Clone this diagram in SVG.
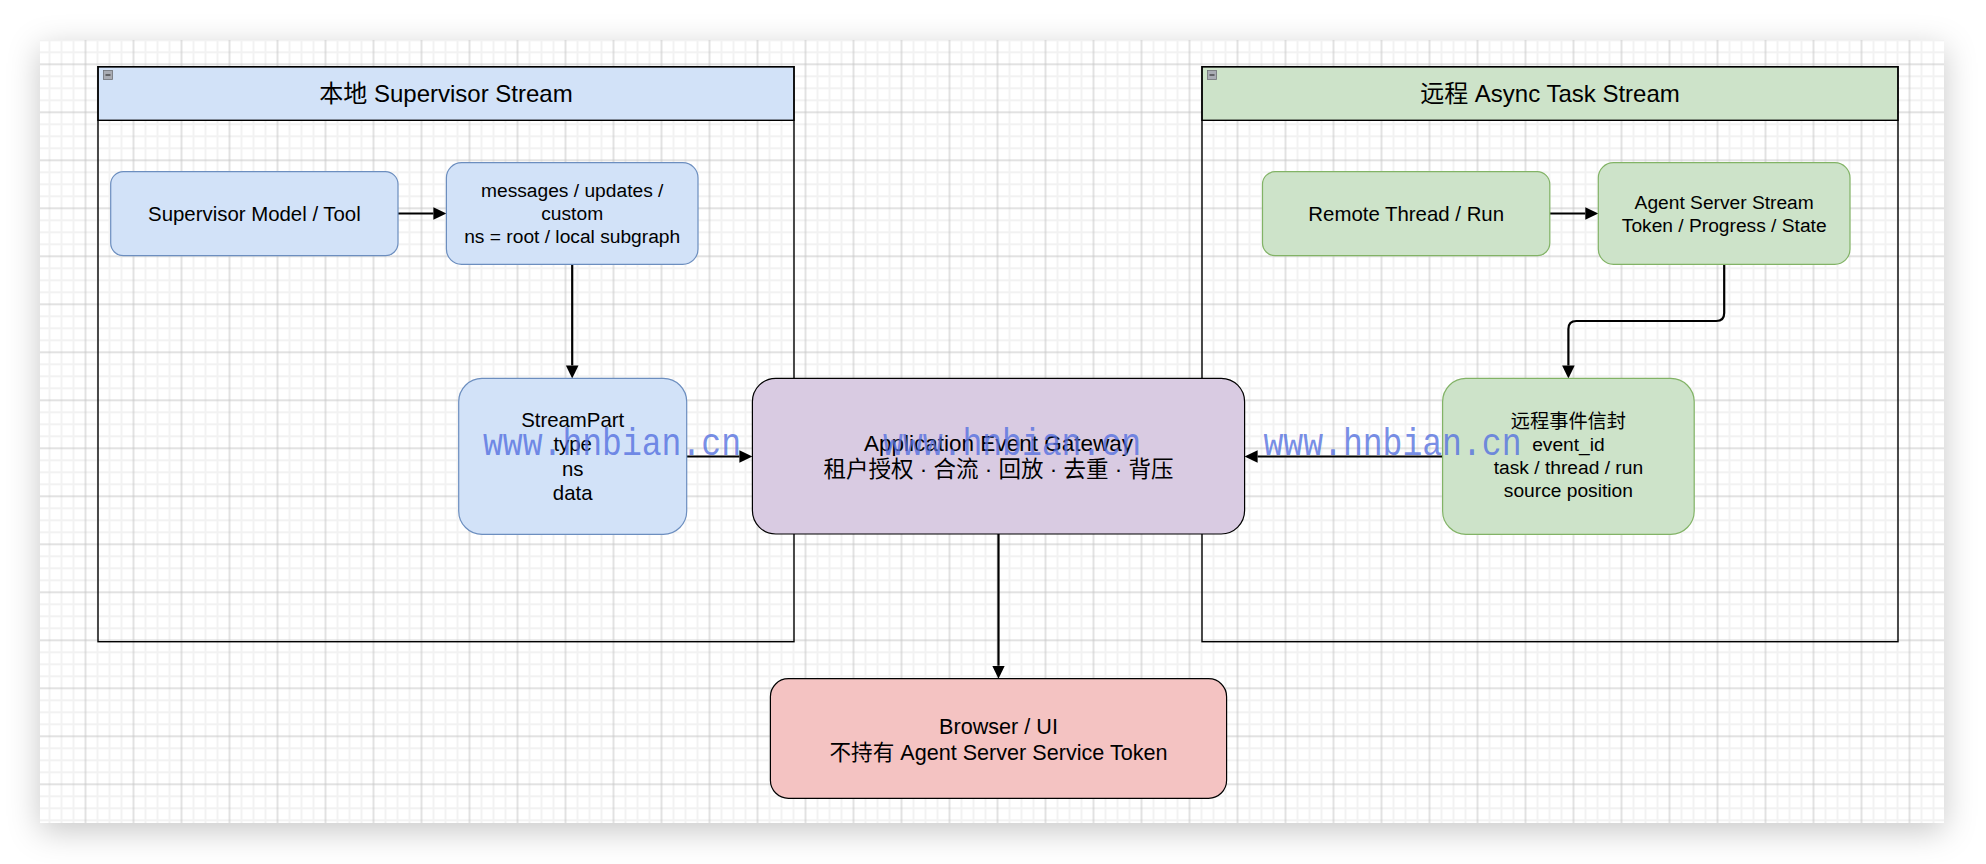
<svg xmlns="http://www.w3.org/2000/svg" width="1986" height="864" viewBox="0 0 1986 864">
<style>
.t{font-family:"Liberation Sans","Noto Sans CJK SC",sans-serif;fill:#000;text-anchor:middle}
.cont{fill:none;stroke:#000;stroke-width:1.4}
.blue{fill:#d2e2f8;stroke:#6c8ebf;stroke-width:1.2}
.green{fill:#cde3c9;stroke:#82b366;stroke-width:1.2}
.purple{fill:#d9cbe2;stroke:#000;stroke-width:1.2}
.pink{fill:#f4c3c2;stroke:#000;stroke-width:1.2}
.edge{fill:none;stroke:#000;stroke-width:2.2}
.wm{font-family:"Liberation Mono",monospace;font-size:33px;fill:#5470e0;fill-opacity:0.8}
</style>
<defs>
<pattern id="grid" patternUnits="userSpaceOnUse" x="13.5" y="40.3" width="48" height="48">
<rect x="0" y="0" width="48" height="48" fill="#fff"/>
<g fill="#f2f2f2">
<rect x="0" y="0" width="1" height="48"/><rect x="47" y="0" width="1" height="48"/>
<rect x="11" y="0" width="2" height="48"/><rect x="35" y="0" width="2" height="48"/>
<rect x="0" y="0" width="48" height="1"/><rect x="0" y="47" width="48" height="1"/>
<rect x="0" y="11" width="48" height="2"/><rect x="0" y="35" width="48" height="2"/>
</g>
<g fill="#c6c6c6">
<rect x="23.5" y="0" width="1" height="48"/><rect x="0" y="23.5" width="48" height="1"/>
</g>
</pattern>
<filter id="sh" x="-10%" y="-15%" width="120%" height="130%">
<feDropShadow dx="0" dy="8" stdDeviation="16" flood-color="#000" flood-opacity="0.22"/>
</filter>
<marker id="arr" markerUnits="userSpaceOnUse" markerWidth="14" markerHeight="14" refX="0" refY="6.3" orient="auto" viewBox="0 0 14 12.6">
<path d="M0,0 L13,6.3 L0,12.6 Z" fill="#000"/>
</marker>
</defs>
<rect width="1986" height="864" fill="#fff"/>
<rect x="40" y="40" width="1904" height="783" fill="#fff" filter="url(#sh)"/>
<rect x="40" y="40" width="1904" height="783" fill="url(#grid)"/>

<g id="local-stream">
<rect x="98" y="66.7" width="696" height="53.6" fill="#d2e2f8" stroke="#000" stroke-width="1.4"/>
<rect class="cont" x="98" y="66.7" width="696" height="575"/>
<rect x="103.5" y="70.5" width="9" height="9" fill="#a9acb4" stroke="#6f7278" stroke-width="0.8"/>
<line x1="105.5" y1="75" x2="110.5" y2="75" stroke="#333" stroke-width="1.2"/>
<text class="t" x="446" y="101.9" font-size="24">本地 Supervisor Stream</text>
</g>

<g id="remote-stream">
<rect x="1202" y="66.7" width="696" height="53.6" fill="#cde3c9" stroke="#000" stroke-width="1.4"/>
<rect class="cont" x="1202" y="66.7" width="696" height="575"/>
<rect x="1207.5" y="70.5" width="9" height="9" fill="#a9acb4" stroke="#6f7278" stroke-width="0.8"/>
<line x1="1209.5" y1="75" x2="1214.5" y2="75" stroke="#333" stroke-width="1.2"/>
<text class="t" x="1550" y="101.9" font-size="24">远程 Async Task Stream</text>
</g>

<g id="edges">
<path class="edge" d="M398,213.5 H433.4" marker-end="url(#arr)"/>
<path class="edge" d="M572.2,264.3 V365.4" marker-end="url(#arr)"/>
<path class="edge" d="M686.7,456.5 H739.4" marker-end="url(#arr)"/>
<path class="edge" d="M1549.8,213.5 H1585.3" marker-end="url(#arr)"/>
<path class="edge" d="M1724.2,264.3 V313 Q1724.2,321 1716.2,321 H1576.4 Q1568.4,321 1568.4,329 V365.4" marker-end="url(#arr)"/>
<path class="edge" d="M1442.6,456.5 H1257.6" marker-end="url(#arr)"/>
<path class="edge" d="M998.5,534 V665.7" marker-end="url(#arr)"/>
</g>

<g id="supervisor-model">
<rect class="blue" x="110.7" y="171.7" width="287.3" height="84" rx="12.6"/>
<text class="t" x="254.4" y="220.8" font-size="20.4">Supervisor Model / Tool</text>
</g>

<g id="messages">
<rect class="blue" x="446.4" y="162.7" width="251.6" height="101.6" rx="15.2"/>
<text class="t" font-size="19.2"><tspan x="572.2" y="197.2">messages / updates /</tspan><tspan x="572.2" y="220.2">custom</tspan><tspan x="572.2" y="243.2">ns = root / local subgraph</tspan></text>
</g>

<g id="streampart">
<rect class="blue" x="458.7" y="378.4" width="228" height="156" rx="23.4"/>
<text class="t" font-size="20.4"><tspan x="572.7" y="426.9">StreamPart</tspan><tspan x="572.7" y="451.4">type</tspan><tspan x="572.7" y="475.9">ns</tspan><tspan x="572.7" y="500.4">data</tspan></text>
</g>

<g id="gateway">
<rect class="purple" x="752.4" y="378.3" width="492.2" height="155.7" rx="23.4"/>
<text class="t" font-size="22.5"><tspan x="998.5" y="451.2">Application Event Gateway</tspan><tspan x="998.5" y="477.2">租户授权 · 合流 · 回放 · 去重 · 背压</tspan></text>
</g>

<g id="browser">
<rect class="pink" x="770.4" y="678.7" width="456.2" height="119.6" rx="18"/>
<text class="t" font-size="21.6"><tspan x="998.5" y="733.6">Browser / UI</tspan><tspan x="998.5" y="759.9">不持有 Agent Server Service Token</tspan></text>
</g>

<g id="remote-thread">
<rect class="green" x="1262.5" y="171.7" width="287.3" height="84" rx="12.6"/>
<text class="t" x="1406.2" y="220.8" font-size="20.4">Remote Thread / Run</text>
</g>

<g id="agent-server-stream">
<rect class="green" x="1598.3" y="162.7" width="251.7" height="101.6" rx="15.2"/>
<text class="t" font-size="19.2"><tspan x="1724.2" y="209.4">Agent Server Stream</tspan><tspan x="1724.2" y="232.4">Token / Progress / State</tspan></text>
</g>

<g id="remote-envelope">
<rect class="green" x="1442.6" y="378.4" width="251.6" height="156" rx="23.4"/>
<text class="t" font-size="19.2"><tspan x="1568.4" y="427.9">远程事件信封</tspan><tspan x="1568.4" y="451.1">event_id</tspan><tspan x="1568.4" y="474.2">task / thread / run</tspan><tspan x="1568.4" y="497.3">source position</tspan></text>
</g>

<g id="watermarks">
<text class="wm" x="483" y="455" textLength="258" lengthAdjust="spacingAndGlyphs" transform="translate(0,455) scale(1,1.15) translate(0,-455)">www.hnbian.cn</text>
<text class="wm" x="883" y="455" textLength="258" lengthAdjust="spacingAndGlyphs" transform="translate(0,455) scale(1,1.15) translate(0,-455)">www.hnbian.cn</text>
<text class="wm" x="1263.5" y="455" textLength="258" lengthAdjust="spacingAndGlyphs" transform="translate(0,455) scale(1,1.15) translate(0,-455)">www.hnbian.cn</text>
</g>
</svg>
